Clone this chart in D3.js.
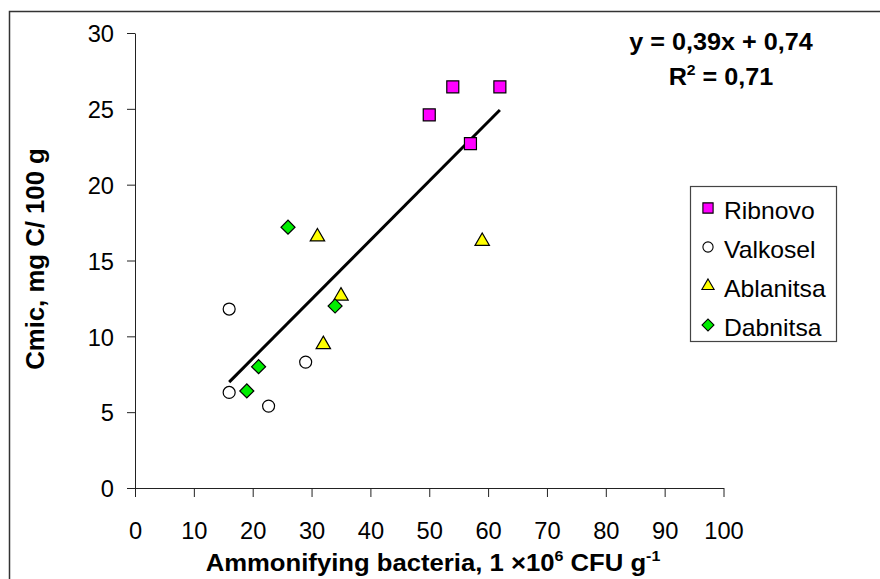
<!DOCTYPE html>
<html>
<head>
<meta charset="utf-8">
<script src="https://cdn.jsdelivr.net/npm/d3@7"></script>
<style>
body { margin: 0; background: white; }
text { font-family: Arial, "Liberation Sans", sans-serif; }
</style>
</head>
<body>
<svg></svg>
<script>
var w = 880
var h = 579

var seriesNames = ["Ribnovo", "Valkosel", "Ablanitsa", "Dabnitsa"]
var ribnovoX = [50, 54, 62, 57]
var ribnovoY = [24.6, 26.45, 26.45, 22.7]
var valkoselX = [16, 16, 22.7, 29]
var valkoselY = [11.8, 6.3, 5.4, 8.3]
var ablanitsaX = [31, 32, 35, 59]
var ablanitsaY = [16.5, 9.4, 12.6, 16.2]
var dabnitsaX = [26, 21, 19, 34]
var dabnitsaY = [17.2, 8.0, 6.4, 12.0]

var xTicks = [0, 10, 20, 30, 40, 50, 60, 70, 80, 90, 100]
var yTicks = [0, 5, 10, 15, 20, 25, 30]

var trendSlope = 0.39
var trendIntercept = 0.74
var trendRange = [16, 62]
var eqText = "y = 0,39x + 0,74"
var r2Text = "0,71"

var fills = ["#ff00ff", "#ffffff", "#ffff00", "#00ee00"]
var allX = [ribnovoX, valkoselX, ablanitsaX, dabnitsaX]
var allY = [ribnovoY, valkoselY, ablanitsaY, dabnitsaY]

var svg = d3.select("svg")
	.attr("width", w)
	.attr("height", h)

svg.append("rect")
	.attr("x", 9.5)
	.attr("y", 11.5)
	.attr("width", 900)
	.attr("height", 600)
	.attr("fill", "white")
	.attr("stroke", "#333")
	.attr("stroke-width", 1.5)

var x = d3.scaleLinear().domain([0, 100]).range([135, 723.5])
var y = d3.scaleLinear().domain([0, 30]).range([488, 33])

var xAxis = svg.append("g")
	.attr("transform", "translate(0," + y(0) + ")")
	.call(d3.axisBottom(x).tickValues(xTicks).tickSize(9).tickSizeOuter(0))
xAxis.selectAll("text")
	.attr("y", 0)
	.attr("dy", 0)
	.attr("transform", "translate(0,51) scale(1.03,1)")

var yAxis = svg.append("g")
	.attr("transform", "translate(" + x(0) + ",0)")
	.call(d3.axisLeft(y).tickValues(yTicks).tickSize(8).tickSizeOuter(0))
yAxis.selectAll("text")
	.attr("x", 0)
	.attr("dy", "0.38em")
	.attr("transform", "translate(-21,0) scale(1.03,1)")

svg.selectAll(".tick text")
	.attr("font-size", 23)
	.attr("font-family", "Arial, 'Liberation Sans', sans-serif")
	.attr("fill", "#000")
svg.selectAll(".domain, .tick line").attr("stroke", "#222")

// trendline
svg.append("line")
	.attr("x1", x(trendRange[0]))
	.attr("y1", y(trendSlope * trendRange[0] + trendIntercept))
	.attr("x2", x(trendRange[1]))
	.attr("y2", y(trendSlope * trendRange[1] + trendIntercept))
	.attr("stroke", "black")
	.attr("stroke-width", 3)

function markerPath(i, big) {
	var s = big ? 1 : 0.85
	if (i == 0) return d3.symbol(d3.symbolSquare, 144 * s * s)()
	if (i == 1) return d3.symbol(d3.symbolCircle, 113 * s * s)()
	if (i == 2) return d3.symbol(d3.symbolTriangle, 90 * s * s)()
	return d3.symbol(d3.symbolSquare, 98 * s * s)()
}

for (var k = 0; k < 4; k++) {
	var pts = allX[k].map(function(v, j) { return {xValue: v, yValue: allY[k][j]} })
	svg.append("g").selectAll("path")
		.data(pts)
		.join("path")
		.attr("d", markerPath(k, true))
		.attr("transform", function(d) {
			var t = "translate(" + x(d.xValue) + "," + y(d.yValue) + ")"
			if (k == 2) t += " translate(0,-1)"
			if (k == 3) t += " rotate(45)"
			return t
		})
		.attr("fill", fills[k])
		.attr("stroke", "black")
		.attr("stroke-width", 1.2)
}

// legend
var legend = svg.append("g")
legend.append("rect")
	.attr("x", 690.5)
	.attr("y", 186.5)
	.attr("width", 146)
	.attr("height", 155)
	.attr("fill", "white")
	.attr("stroke", "#444")
	.attr("stroke-width", 1.2)

var rows = legend.selectAll("g.row")
	.data(seriesNames)
	.join("g")
	.attr("class", "row")
	.attr("transform", function(d, i) { return "translate(708," + (208 + i * 39) + ")" })

rows.append("path")
	.attr("d", function(d, i) { return markerPath(i, false) })
	.attr("transform", function(d, i) { return i == 3 ? "rotate(45)" : "" })
	.attr("fill", function(d, i) { return fills[i] })
	.attr("stroke", "black")
	.attr("stroke-width", 1.1)

rows.append("text")
	.attr("transform", "translate(16,11) scale(1.03,1)")
	.attr("font-size", 24)
	.text(function(d) { return d })

// equation
svg.append("text")
	.attr("transform", "translate(721,50) scale(1.05,1)")
	.attr("text-anchor", "middle")
	.attr("font-size", 24)
	.attr("font-weight", "bold")
	.text(eqText)

var r2 = svg.append("text")
	.attr("transform", "translate(721,85) scale(1.05,1)")
	.attr("text-anchor", "middle")
	.attr("font-size", 24)
	.attr("font-weight", "bold")
r2.append("tspan").text("R")
r2.append("tspan").attr("font-size", 15).attr("dy", -10).text("2")
r2.append("tspan").attr("dy", 10).text(" = " + r2Text)

// axis titles
var xt = svg.append("text")
	.attr("transform", "translate(433,571) scale(1.07,1)")
	.attr("text-anchor", "middle")
	.attr("font-size", 24)
	.attr("font-weight", "bold")
xt.append("tspan").text("Ammonifying bacteria, 1 \u00d710")
xt.append("tspan").attr("font-size", 15).attr("dy", -10).text("6")
xt.append("tspan").attr("dy", 10).text(" CFU g")
xt.append("tspan").attr("font-size", 15).attr("dy", -10).text("-1")

svg.append("text")
	.attr("transform", "translate(44,259) rotate(-90) scale(1.03,1)")
	.attr("text-anchor", "middle")
	.attr("font-size", 25)
	.attr("font-weight", "bold")
	.text("Cmic, mg C/ 100 g")
</script>
</body>
</html>
